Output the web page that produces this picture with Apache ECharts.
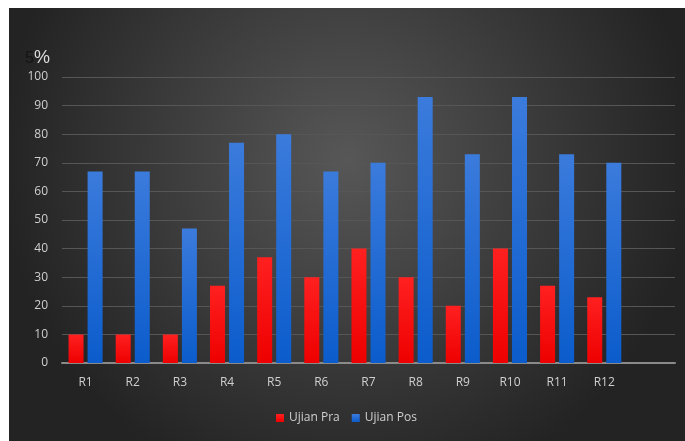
<!DOCTYPE html>
<html lang="en">
<head>
    <meta charset="UTF-8">
    <title>Ujian Pra / Ujian Pos</title>
    <script src="https://cdn.jsdelivr.net/npm/echarts@6/dist/echarts.min.js"></script>
    <style>
        body, html {
            margin: 0;
            width: 100%;
            height: 100%;
            background: #fff;
        }
        #mydemo {
            position: absolute;
            left: 9px;
            top: 8px;
            width: 676px;
            height: 433px;
        }
    </style>
</head>
<body>
<div id="mydemo"></div>
</body>
</html>

<script>

    // data
    let categories = ["R1", "R2", "R3", "R4", "R5", "R6", "R7", "R8", "R9", "R10", "R11", "R12", ""];
    let ujianPra = [10, 10, 10, 27, 37, 30, 40, 30, 20, 40, 27, 23];
    let ujianPos = [67, 67, 47, 77, 80, 67, 70, 93, 73, 93, 73, 70];
    let yTicks = [0, 100, 10];

    let demoDom = document.getElementById("mydemo");

    let options = {
        backgroundColor: {
            type: 'radial', x: 0.5, y: 0.35, r: 0.8,
            colorStops: [
                {offset: 0, color: '#575757'},
                {offset: 1, color: '#232323'}
            ]
        },
        textStyle: {fontFamily: 'Open Sans'},
        grid: {left: 53, right: 10, top: 69, bottom: 78},
        legend: {
            bottom: 12,
            left: 262,
            icon: 'rect',
            itemWidth: 8,
            itemHeight: 8,
            itemGap: 12,
            textStyle: {color: '#cfcfcf', fontSize: 12},
            data: ['Ujian Pra', 'Ujian Pos']
        },
        graphic: [
            {type: 'text', left: 16, top: 43, style: {text: '5', fill: '#151515', fontSize: 16}},
            {type: 'text', left: 25, top: 41, style: {text: '%', fill: '#dcdcdc', fontSize: 18}}
        ],
        xAxis: {
            type: 'category',
            data: categories,
            axisTick: {show: false},
            axisLine: {lineStyle: {color: '#8a8a8a', width: 2}},
            axisLabel: {color: '#cfcfcf', fontSize: 12, margin: 14}
        },
        yAxis: {
            type: 'value',
            min: yTicks[0],
            max: yTicks[1],
            interval: yTicks[2],
            axisLine: {show: false},
            axisTick: {show: false},
            axisLabel: {color: '#cfcfcf', fontSize: 12, margin: 14},
            splitLine: {lineStyle: {color: '#565656', width: 1}}
        },
        series: [{
            name: 'Ujian Pra',
            type: 'bar',
            data: ujianPra,
            barWidth: 15,
            barGap: '27%',
            itemStyle: {
                color: {
                    type: 'linear', x: 0, y: 0, x2: 0, y2: 1,
                    colorStops: [{offset: 0, color: '#ff2020'}, {offset: 1, color: '#ee0000'}]
                }
            }
        }, {
            name: 'Ujian Pos',
            type: 'bar',
            data: ujianPos,
            barWidth: 15,
            itemStyle: {
                color: {
                    type: 'linear', x: 0, y: 0, x2: 0, y2: 1,
                    colorStops: [{offset: 0, color: '#3b7bdc'}, {offset: 1, color: '#0b5ccc'}]
                }
            }
        }]
    };

    let demo = echarts.init(demoDom);
    demo.setOption(options);

    window.addEventListener("resize", function () {
        demo.resize();
    })

</script>
